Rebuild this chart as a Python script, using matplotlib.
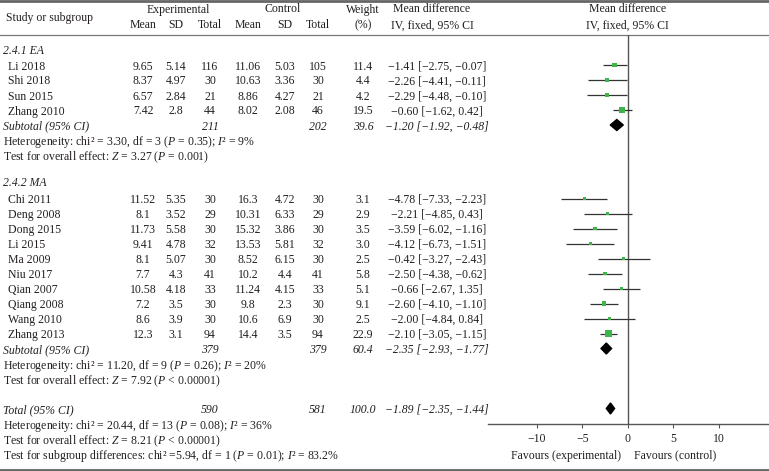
import numpy as np
import matplotlib
matplotlib.use("Agg")
import matplotlib.pyplot as plt
from matplotlib.patches import Polygon

# forest plot: EA vs MA subgroups, mean difference (IV, fixed, 95% CI)

plt.rcParams['font.family'] = ['Liberation Serif', 'DejaVu Serif']
plt.rcParams['mathtext.fontset'] = 'custom'
plt.rcParams['mathtext.rm'] = 'Liberation Serif'
plt.rcParams['mathtext.it'] = 'Liberation Serif:italic'

# ---- data: subgroup 2.4.1 EA ----
studies_ea = ["Li 2018", "Shi 2018", "Sun 2015", "Zhang 2010"]
exp_mean_ea = [9.65, 8.37, 6.57, 7.42]
exp_sd_ea = [5.14, 4.97, 2.84, 2.8]
exp_n_ea = [116, 30, 21, 44]
ctl_mean_ea = [11.06, 10.63, 8.86, 8.02]
ctl_sd_ea = [5.03, 3.36, 4.27, 2.08]
ctl_n_ea = [105, 30, 21, 46]
weight_ea = [11.4, 4.4, 4.2, 19.5]
md_ea = [-1.41, -2.26, -2.29, -0.60]
lo_ea = [-2.75, -4.41, -4.48, -1.62]
hi_ea = [-0.07, -0.11, -0.10, 0.42]
ci_text_ea = ["−1.41 [−2.75, −0.07]", "−2.26 [−4.41, −0.11]",
              "−2.29 [−4.48, −0.10]", "−0.60 [−1.62, 0.42]"]

# ---- data: subgroup 2.4.2 MA ----
studies_ma = ["Chi 2011", "Deng 2008", "Dong 2015", "Li 2015", "Ma 2009",
              "Niu 2017", "Qian 2007", "Qiang 2008", "Wang 2010", "Zhang 2013"]
exp_mean_ma = [11.52, 8.1, 11.73, 9.41, 8.1, 7.7, 10.58, 7.2, 8.6, 12.3]
exp_sd_ma = [5.35, 3.52, 5.58, 4.78, 5.07, 4.3, 4.18, 3.5, 3.9, 3.1]
exp_n_ma = [30, 29, 30, 32, 30, 41, 33, 30, 30, 94]
ctl_mean_ma = [16.3, 10.31, 15.32, 13.53, 8.52, 10.2, 11.24, 9.8, 10.6, 14.4]
ctl_sd_ma = [4.72, 6.33, 3.86, 5.81, 6.15, 4.4, 4.15, 2.3, 6.9, 3.5]
ctl_n_ma = [30, 29, 30, 32, 30, 41, 33, 30, 30, 94]
weight_ma = [3.1, 2.9, 3.5, 3.0, 2.5, 5.8, 5.1, 9.1, 2.5, 22.9]
md_ma = [-4.78, -2.21, -3.59, -4.12, -0.42, -2.50, -0.66, -2.60, -2.00, -2.10]
lo_ma = [-7.33, -4.85, -6.02, -6.73, -3.27, -4.38, -2.67, -4.10, -4.84, -3.05]
hi_ma = [-2.23, 0.43, -1.16, -1.51, 2.43, -0.62, 1.35, -1.10, 0.84, -1.15]
ci_text_ma = ["−4.78 [−7.33, −2.23]", "−2.21 [−4.85, 0.43]", "−3.59 [−6.02, −1.16]",
              "−4.12 [−6.73, −1.51]", "−0.42 [−3.27, −2.43]", "−2.50 [−4.38, −0.62]",
              "−0.66 [−2.67, 1.35]", "−2.60 [−4.10, −1.10]", "−2.00 [−4.84, 0.84]",
              "−2.10 [−3.05, −1.15]"]

# ---- pooled estimates ----
pooled_labels = ["Subtotal (95% CI)", "Subtotal (95% CI)", "Total (95% CI)"]
pooled_exp_n = [211, 379, 590]
pooled_ctl_n = [202, 379, 581]
pooled_weight = [39.6, 60.4, 100.0]
pooled_md = [-1.20, -2.35, -1.89]
pooled_lo = [-1.92, -2.93, -2.35]
pooled_hi = [-0.48, -1.77, -1.44]

het_ea = [r"Heterogeneity: chi² = 3.30, df = 3 ($P$ = 0.35); $I$² = 9%",
          r"Test for overall effect: $Z$ = 3.27 ($P$ = 0.001)"]
het_ma = [r"Heterogeneity: chi² = 11.20, df = 9 ($P$ = 0.26); $I$² = 20%",
          r"Test for overall effect: $Z$ = 7.92 ($P$ < 0.00001)"]
het_total = [r"Heterogeneity: chi² = 20.44, df = 13 ($P$ = 0.08); $I$² = 36%",
             r"Test for overall effect: $Z$ = 8.21 ($P$ < 0.00001)",
             r"Test for subgroup differences: chi² =5.94, df = 1 ($P$ = 0.01); $I$² = 83.2%"]

xticks = [-10, -5, 0, 5, 10]

# ---- layout (pixel units, y down) ----
W, H = 769, 471
TXT = '#231f20'
GREEN = '#3db54a'
FS = 8.5

# column centres
X_NAME, X_GRP = 8, 3
X_EM, X_ESD, X_EN = 143, 176, 210
X_CM, X_CSD, X_CN = 248, 285, 318
X_W = 363
X_MD = 437
X0_PIX, PPU = 627.7, 9.1   # zero line and pixels per unit on the forest axis
AX_L, AX_R, AX_TOP, AX_BOT = 487.7, 769, 35, 423.5

fig = plt.figure(figsize=(W / 100, H / 100), dpi=100)
ax = fig.add_axes([0, 0, 1, 1])
ax.set_xlim(0, W)
ax.set_ylim(H, 0)
ax.axis('off')

axf = fig.add_axes([AX_L / W, (H - AX_BOT) / H, (AX_R - AX_L) / W, (AX_BOT - AX_TOP) / H])
axf.set_xlim((AX_L - X0_PIX) / PPU, (AX_R - X0_PIX) / PPU)
axf.set_ylim(AX_BOT, AX_TOP)
axf.patch.set_alpha(0)
for s in ['top', 'right', 'left']:
    axf.spines[s].set_visible(False)
axf.spines['bottom'].set_color('#555555')
axf.spines['bottom'].set_linewidth(1.0)
axf.set_yticks([])
axf.set_xticks(xticks)
axf.set_xticklabels([f"{t}".replace('-', '−') for t in xticks], fontsize=FS, color=TXT)
axf.tick_params(axis='x', direction='out', length=3, width=0.8, color='#555555', pad=4)
axf.axvline(0, color='#555555', lw=1.0, zorder=1)


def txt(x, y, s, ha='center', italic=False):
    ax.text(x, y, s, ha=ha, va='center_baseline', fontsize=FS, color=TXT,
            style='italic' if italic else 'normal')


# rules
ax.plot([0, W], [1, 1], color='#666666', lw=2)
ax.plot([0, W], [35, 35], color='#777777', lw=0.9)
ax.plot([0, W], [469.5, 469.5], color='#666666', lw=2)

# header
txt(6, 16, "Study or subgroup", ha='left')
txt(178, 8, "Experimental")
txt(283, 8, "Control")
txt(363, 8, "Weight")
txt(363, 24, "(%)")
for xc, lab in zip([X_EM, X_ESD, X_EN, X_CM, X_CSD, X_CN], ["Mean", "SD", "Total"] * 2):
    txt(xc, 24, lab)
txt(432, 8, "Mean difference")
txt(432, 24, "IV, fixed, 95% CI")
txt(X0_PIX, 8, "Mean difference")
txt(X0_PIX, 24, "IV, fixed, 95% CI")


def study_rows(y0, names, em, esd, en, cm, csd, cn, w, md, lo, hi, ci_text):
    ys = [y0 + 15 * i for i in range(len(names))]
    for i, y in enumerate(ys):
        txt(X_NAME, y, names[i], ha='left')
        txt(X_EM, y, f"{em[i]:g}")
        txt(X_ESD, y, f"{esd[i]:g}")
        txt(X_EN, y, f"{en[i]}")
        txt(X_CM, y, f"{cm[i]:g}")
        txt(X_CSD, y, f"{csd[i]:g}")
        txt(X_CN, y, f"{cn[i]}")
        txt(X_W, y, f"{w[i]:.1f}")
        txt(X_MD, y, ci_text[i])
    axf.hlines(ys, lo, hi, color='#333333', lw=0.9, zorder=2)
    axf.scatter(md, ys, s=np.array(w) * 0.9 + 2, marker='s', color=GREEN,
                edgecolors='none', zorder=3)
    return ys[-1]


def pooled_row(y, k):
    txt(X_GRP, y, pooled_labels[k], ha='left', italic=True)
    txt(X_EN, y, f"{pooled_exp_n[k]}", italic=True)
    txt(X_CN, y, f"{pooled_ctl_n[k]}", italic=True)
    txt(X_W, y, f"{pooled_weight[k]:.1f}", italic=True)
    s = f"{pooled_md[k]:.2f} [{pooled_lo[k]:.2f}, {pooled_hi[k]:.2f}]".replace('-', '−')
    txt(X_MD, y, s, italic=True)
    dh = 5.5
    poly = Polygon([(pooled_lo[k], y), (pooled_md[k], y - dh),
                    (pooled_hi[k], y), (pooled_md[k], y + dh)],
                   closed=True, color='black', zorder=4)
    axf.add_patch(poly)


# subgroup EA
txt(X_GRP, 50, "2.4.1 EA", ha='left', italic=True)
y_last = study_rows(65, studies_ea, exp_mean_ea, exp_sd_ea, exp_n_ea, ctl_mean_ea,
                    ctl_sd_ea, ctl_n_ea, weight_ea, md_ea, lo_ea, hi_ea, ci_text_ea)
pooled_row(y_last + 15, 0)
for i, s in enumerate(het_ea):
    txt(X_GRP, y_last + 30 + 15 * i, s, ha='left')

# subgroup MA
txt(X_GRP, 182, "2.4.2 MA", ha='left', italic=True)
y_last = study_rows(198.5, studies_ma, exp_mean_ma, exp_sd_ma, exp_n_ma, ctl_mean_ma,
                    ctl_sd_ma, ctl_n_ma, weight_ma, md_ma, lo_ma, hi_ma, ci_text_ma)
pooled_row(y_last + 15, 1)
for i, s in enumerate(het_ma):
    txt(X_GRP, y_last + 30 + 15 * i, s, ha='left')

# overall
pooled_row(408.5, 2)
for i, s in enumerate(het_total):
    txt(X_GRP, 423.5 + 15 * i, s, ha='left')

txt(621, 454, "Favours (experimental)", ha='right')
txt(634, 454, "Favours (control)", ha='left')

fig.savefig("out.png", dpi=100)
